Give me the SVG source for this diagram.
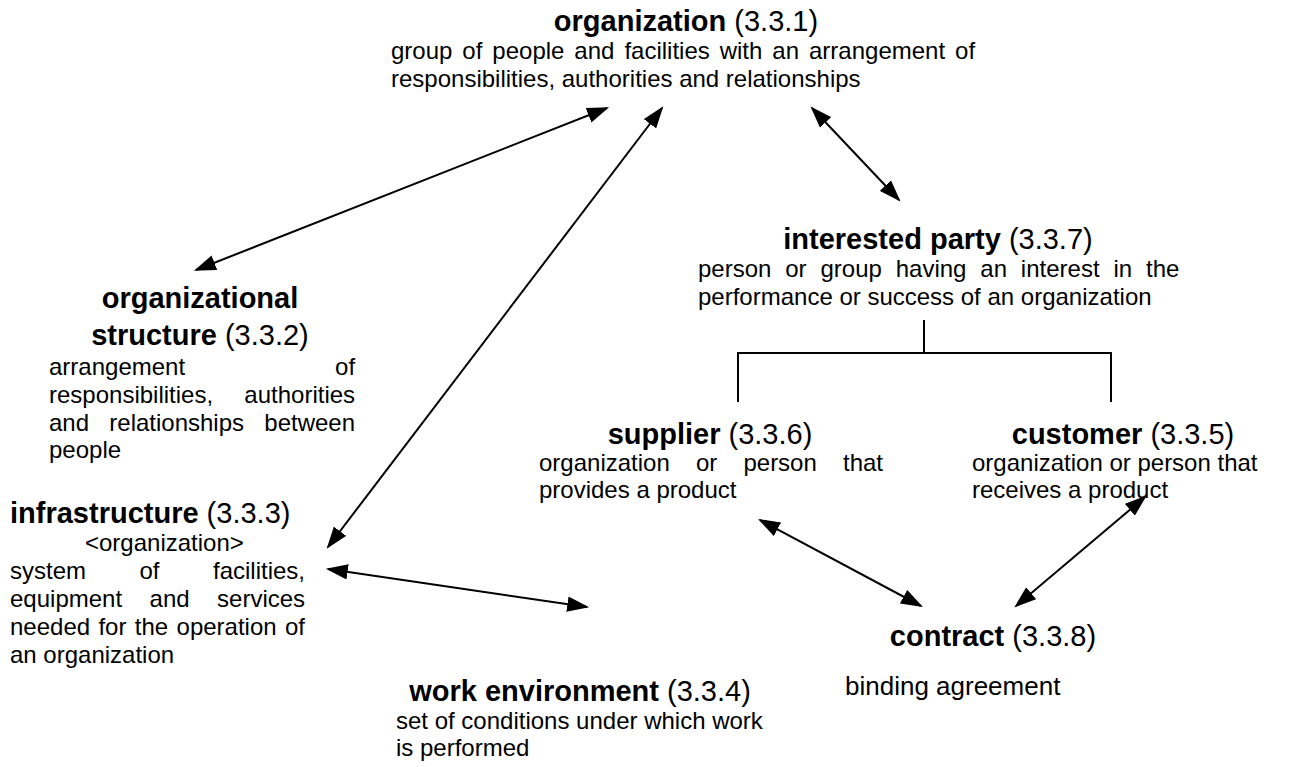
<svg xmlns="http://www.w3.org/2000/svg" width="1295" height="767" viewBox="0 0 1295 767">
<style>
text{font-family:"Liberation Sans",Arial,sans-serif;fill:#000}
.t{font-size:29px}
.b{font-weight:bold}
.d{font-size:24px}
.c{text-anchor:middle}
.ln{stroke:#000;stroke-width:2;fill:none}
</style>
<defs>
<marker id="ah" markerUnits="userSpaceOnUse" markerWidth="22" markerHeight="16" viewBox="0 0 20 14" refX="18" refY="7" orient="auto-start-reverse">
<path d="M0,0 L20,7 L0,14 z" fill="#000"/>
</marker>
</defs>
<rect width="1295" height="767" fill="#fff"/>
<g id="connectors">
<line class="ln" x1="196" y1="270" x2="607" y2="108" marker-start="url(#ah)" marker-end="url(#ah)"/>
<line class="ln" x1="328" y1="547" x2="662" y2="108" marker-start="url(#ah)" marker-end="url(#ah)"/>
<line class="ln" x1="812" y1="108" x2="899" y2="200" marker-start="url(#ah)" marker-end="url(#ah)"/>
<line class="ln" x1="328" y1="569" x2="587" y2="607" marker-start="url(#ah)" marker-end="url(#ah)"/>
<line class="ln" x1="760" y1="520" x2="921" y2="606" marker-start="url(#ah)" marker-end="url(#ah)"/>
<line class="ln" x1="1145" y1="497" x2="1016" y2="606" marker-start="url(#ah)" marker-end="url(#ah)"/>
<path class="ln" d="M924,320 V353 M738,402 V353 H1111 V402"/>
</g>
<g id="organization">
<text class="t c" x="686" y="31"><tspan class="b">organization</tspan> (3.3.1)</text>
<text class="d" x="391" y="59" word-spacing="3.3">group of people and facilities with an arrangement of</text>
<text class="d" x="391" y="87">responsibilities, authorities and relationships</text>
</g>
<g id="organizational-structure">
<text class="t c b" x="200" y="308">organizational</text>
<text class="t c" x="200" y="345"><tspan class="b">structure</tspan> (3.3.2)</text>
<text class="d" x="49" y="375" word-spacing="143.3">arrangement of</text>
<text class="d" x="49" y="403" word-spacing="24.6">responsibilities, authorities</text>
<text class="d" x="49" y="431" word-spacing="13.6">and relationships between</text>
<text class="d" x="49" y="458">people</text>
</g>
<g id="infrastructure">
<text class="t" x="10" y="523"><tspan class="b">infrastructure</tspan> (3.3.3)</text>
<text class="d" x="85" y="551">&lt;organization&gt;</text>
<text class="d" x="10" y="579" word-spacing="46.8">system of facilities,</text>
<text class="d" x="10" y="607" word-spacing="20.8">equipment and services</text>
<text class="d" x="10" y="635" word-spacing="1.7">needed for the operation of</text>
<text class="d" x="10" y="663">an organization</text>
</g>
<g id="interested-party">
<text class="t c" x="938" y="249"><tspan class="b">interested party</tspan> (3.3.7)</text>
<text class="d" x="698" y="277" word-spacing="7.2">person or group having an interest in the</text>
<text class="d" x="698" y="305">performance or success of an organization</text>
</g>
<g id="supplier">
<text class="t c" x="710" y="444"><tspan class="b">supplier</tspan> (3.3.6)</text>
<text class="d" x="539" y="471" word-spacing="19.5">organization or person that</text>
<text class="d" x="539" y="498">provides a product</text>
</g>
<g id="customer">
<text class="t c" x="1123" y="444"><tspan class="b">customer</tspan> (3.3.5)</text>
<text class="d" x="972" y="471">organization or person that</text>
<text class="d" x="972" y="498">receives a product</text>
</g>
<g id="work-environment">
<text class="t c" x="580" y="701"><tspan class="b">work environment</tspan> (3.3.4)</text>
<text class="d" x="396" y="729">set of conditions under which work</text>
<text class="d" x="396" y="756">is performed</text>
</g>
<g id="contract">
<text class="t c" x="993" y="646"><tspan class="b">contract</tspan> (3.3.8)</text>
<text x="845" y="695" font-size="26">binding agreement</text>
</g>
</svg>
